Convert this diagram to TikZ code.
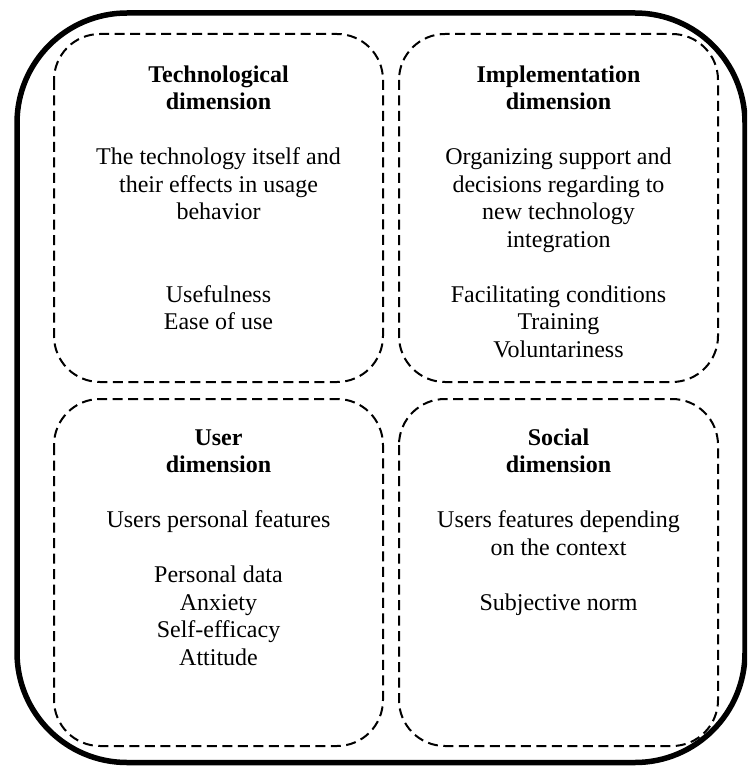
\documentclass[tikz,border=0pt]{standalone}
\usepackage{fontspec}
\setmainfont{Liberation Serif}
\begin{document}
\begin{tikzpicture}[x=1pt,y=-1pt,
  outerbox/.style={line width=5.5pt,rounded corners=110pt},
  dimbox/.style={line width=2pt,dash pattern=on 10pt off 5.5pt,rounded corners=46pt},
  dimtext/.style={align=center,anchor=base,inner sep=0pt,font=\fontsize{24}{27.5}\selectfont}]
\useasboundingbox (0,0) rectangle (747,767);
\begin{scope}
\clip (0,0) rectangle (747,767);
\draw[outerbox] (17,13) rectangle (745,762.5);
\end{scope}
\draw[dimbox] (54,34) rectangle (383,382);
\draw[dimbox] (399,34) rectangle (718,382);
\draw[dimbox] (54,399) rectangle (383,746);
\draw[dimbox] (399,399) rectangle (718,746);
\node[dimtext] (tech) at (218.5,329.5) {\textbf{Technological}\\\textbf{dimension}\\[27.5pt]
The technology itself and\\their effects in usage\\behavior\\[55pt]
Usefulness\\Ease of use};
\node[dimtext] (impl) at (558.5,357) {\textbf{Implementation}\\\textbf{dimension}\\[27.5pt]
Organizing support and\\decisions regarding to\\new technology\\integration\\[27.5pt]
Facilitating conditions\\Training\\Voluntariness};
\node[dimtext] (user) at (218.5,665) {\textbf{User}\\\textbf{dimension}\\[27.5pt]
Users personal features\\[27.5pt]
Personal data\\Anxiety\\Self-efficacy\\Attitude};
\node[dimtext] (social) at (558.5,610) {\textbf{Social}\\\textbf{dimension}\\[27.5pt]
Users features depending\\on the context\\[27.5pt]
Subjective norm};
\end{tikzpicture}
\end{document}
